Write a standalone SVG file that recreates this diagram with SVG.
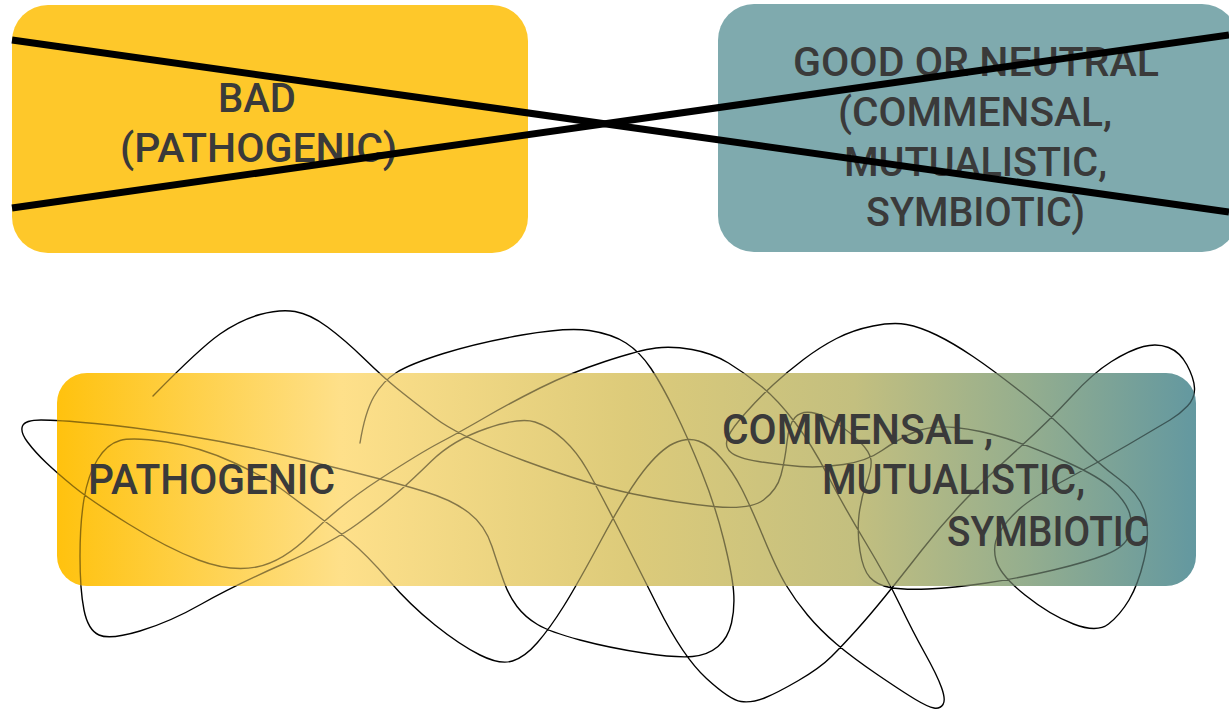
<svg xmlns="http://www.w3.org/2000/svg" width="1229" height="711" viewBox="0 0 1229 711">
<style>
.lbl{font-family:Roboto,"Liberation Sans",sans-serif;font-weight:500;fill:#3a3a3a}
.top{font-size:41px}
.bot{font-size:43px}
.strike{stroke:#000;stroke-width:7;stroke-linecap:butt}
.scrib{fill:none;stroke:#000;stroke-width:1.4;stroke-linecap:round;stroke-linejoin:round}
</style>
<defs>
<linearGradient id="spec" x1="57" y1="0" x2="1196" y2="0" gradientUnits="userSpaceOnUse">
<stop offset="0" stop-color="#FFC20E"/>
<stop offset="0.25" stop-color="#FEE08A"/>
<stop offset="0.5" stop-color="#DDCB7A"/>
<stop offset="0.7" stop-color="#C3BF7F"/>
<stop offset="0.85" stop-color="#95AE8E"/>
<stop offset="1" stop-color="#6398A0"/>
</linearGradient>
<mask id="fade" maskUnits="userSpaceOnUse" x="0" y="0" width="1229" height="711">
<rect width="1229" height="711" fill="#fff"/>
<rect x="57" y="373" width="1139" height="213" rx="30" fill="#000" fill-opacity="0.55"/>
</mask>
</defs>
<g id="node-bad">
<rect x="12" y="5" width="516" height="248" rx="36" fill="#FEC82A"/>
<text class="lbl top" x="218" y="112" textLength="78" lengthAdjust="spacingAndGlyphs">BAD</text>
<text class="lbl top" x="120" y="162" textLength="277" lengthAdjust="spacingAndGlyphs">(PATHOGENIC)</text>
</g>
<g id="node-good">
<rect x="718" y="4" width="520" height="248" rx="36" fill="#7FAAAE"/>
<text class="lbl top" x="793" y="76" textLength="366" lengthAdjust="spacingAndGlyphs">GOOD OR NEUTRAL</text>
<text class="lbl top" x="838" y="126" textLength="274" lengthAdjust="spacingAndGlyphs">(COMMENSAL,</text>
<text class="lbl top" x="844" y="176" textLength="263" lengthAdjust="spacingAndGlyphs">MUTUALISTIC,</text>
<text class="lbl top" x="866" y="226" textLength="219" lengthAdjust="spacingAndGlyphs">SYMBIOTIC)</text>
</g>
<g id="strikes">
<line class="strike" x1="12" y1="40" x2="1229" y2="212"/>
<line class="strike" x1="12" y1="208" x2="1229" y2="35"/>
</g>
<g id="node-spectrum">
<rect x="57" y="373" width="1139" height="213" rx="30" fill="url(#spec)"/>
</g>
<g id="scribble" mask="url(#fade)">
<path class="scrib" d="M360,443 Q365,412 374,396.5 Q383,381 396.5,372.5 Q410,364 443.5,353.5 Q477,343 522,335 Q567,327 589.5,330.5 Q612,334 626,343 Q640,352 651,368.5 Q662,385 675,411.5 Q688,438 701.5,471.5 Q715,505 723.5,539 Q732,573 733.5,590.5 Q735,608 731.5,623 Q728,638 718,646.5 Q708,655 692.5,656.5 Q677,658 643.5,653 Q610,648 580,640 Q550,632 537.5,624.5 Q525,617 517,606.5 Q509,596 504,582 Q499,568 492,546.5 Q485,525 468.5,512.5 Q452,500 426,492 Q400,484 366.5,475.5 Q333,467 283,455 Q233,443 183,435 Q133,427 95,423.5 Q57,420 41,420 Q25,420 22.5,426 Q20,432 27.5,442 Q35,452 46,462.5 Q57,473 73.5,486.5 Q90,500 128.5,524 Q167,548 198.5,560 Q230,572 256.5,567 Q283,562 311.5,533.5 Q340,505 380,479 Q420,453 440,442.5 Q460,432 485,417.5 Q510,403 540,388 Q570,373 605,361.5 Q640,350 656,348 Q672,346 692,349.5 Q712,353 728.5,363 Q745,373 761.5,386.5 Q778,400 795,422.5 Q812,445 827.5,475 Q843,505 865,541.5 Q887,578 900,605 Q913,632 925,653.5 Q937,675 941.5,687.5 Q946,700 943,704.5 Q940,709 934,708 Q928,707 915.5,699.5 Q903,692 878,675 Q853,658 836.5,644 Q820,630 807.5,615 Q795,600 786,585 Q777,570 763.5,537.5 Q750,505 741.5,488.5 Q733,472 721.5,458.5 Q710,445 698.5,441 Q687,437 673.5,443.5 Q660,450 643.5,471 Q627,492 602,538.5 Q577,585 563.5,606.5 Q550,628 537.5,642.5 Q525,657 512.5,661 Q500,665 480,655 Q460,645 435,625 Q410,605 388.5,580 Q367,555 350,541 Q333,527 316.5,515 Q300,503 283.5,490.5 Q267,478 233.5,462.5 Q200,447 166.5,442 Q133,437 120,440.5 Q107,444 97.5,459.5 Q88,475 84,499 Q80,523 80,556.5 Q80,590 84,610 Q88,630 99,635 Q110,640 140,631 Q170,622 201.5,604 Q233,586 283,564 Q333,542 358,523.5 Q383,505 396.5,493.5 Q410,482 431.5,461 Q453,440 486.5,428.5 Q520,417 535,422 Q550,427 563.5,439.5 Q577,452 587,469.5 Q597,487 615,522 Q633,557 658,607 Q683,657 706.5,678.5 Q730,700 741,701.5 Q752,703 764.5,698 Q777,693 798.5,680.5 Q820,668 831.5,656.5 Q843,645 856.5,630 Q870,615 885,596.5 Q900,578 921.5,550.5 Q943,523 965,500 Q987,477 1018.5,448.5 Q1050,420 1071.5,396.5 Q1093,373 1111.5,361.5 Q1130,350 1143.5,346.5 Q1157,343 1168.5,347.5 Q1180,352 1187,365 Q1194,378 1194.5,388 Q1195,398 1187.5,406 Q1180,414 1170,420 Q1160,426 1128.5,444.5 Q1097,463 1065,480 Q1033,497 1020,508.5 Q1007,520 999.5,532.5 Q992,545 996,560 Q1000,575 1025,595 Q1050,615 1073.5,624 Q1097,633 1108.5,624 Q1120,615 1129,600 Q1138,585 1144,560 Q1150,535 1145.5,515 Q1141,495 1119,479 Q1097,463 1075,440 Q1053,417 1023,393.5 Q993,370 973,356.5 Q953,343 936.5,335 Q920,327 906.5,324.5 Q893,322 873,326 Q853,330 836.5,338.5 Q820,347 803.5,359.5 Q787,372 773.5,384.5 Q760,397 746,412.5 Q732,428 728,437 Q724,446 730.5,452 Q737,458 758.5,461.5 Q780,465 800,466.5 Q820,468 843.5,464.5 Q867,461 882,450.5 Q897,440 913.5,432.5 Q930,425 955,427.5 Q980,430 1006.5,438.5 Q1033,447 1066.5,462 Q1100,477 1113,489.5 Q1126,502 1129.5,513 Q1133,524 1129,535.5 Q1125,547 1106,554.5 Q1087,562 1053.5,570 Q1020,578 986.5,583 Q953,588 928,589 Q903,590 890,587.5 Q877,585 870,577.5 Q863,570 860,551 Q857,532 859,515 Q861,498 866.5,483 Q872,468 871,460 Q870,452 860,442 Q850,432 836,423 Q822,414 811.5,412.5 Q801,411 795,417.5 Q789,424 787,442 Q785,460 781,475 Q777,490 763.5,500 Q750,510 713.5,506.5 Q677,503 633.5,494 Q590,485 525,461 Q460,437 435,418 Q410,399 396.5,388 Q383,377 364,358.5 Q345,340 327.5,327 Q310,314 295,311.5 Q280,309 260,314.5 Q240,320 220,334 Q200,348 153,396"/>
</g>
<g id="spectrum-labels">
<text class="lbl bot" x="88" y="494" textLength="247" lengthAdjust="spacingAndGlyphs">PATHOGENIC</text>
<text class="lbl bot" x="722" y="444" textLength="271" lengthAdjust="spacingAndGlyphs">COMMENSAL ,</text>
<text class="lbl bot" x="822" y="494" textLength="263" lengthAdjust="spacingAndGlyphs">MUTUALISTIC,</text>
<text class="lbl bot" x="947" y="546" textLength="202" lengthAdjust="spacingAndGlyphs">SYMBIOTIC</text>
</g>
</svg>
